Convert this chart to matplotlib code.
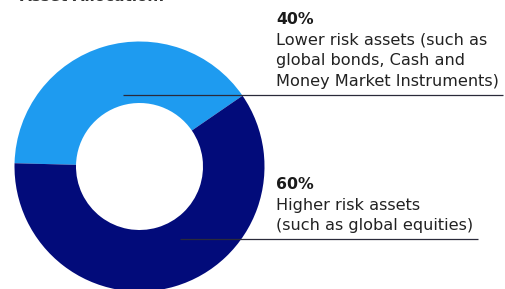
import matplotlib.pyplot as plt

# === Data ===
shares = [40, 60]
pct_labels = ['40%', '60%']
descriptions = [
    ['Lower risk assets (such as', 'global bonds, Cash and', 'Money Market Instruments)'],
    ['Higher risk assets', '(such as global equities)'],
]
colors = ['#1e9bf0', '#020b7a']
title = 'Asset Allocation:'

# === Layout (pixels, origin top-left) ===
W, H = 506, 289
center = (139.5, 166.5)
r_out, r_in = 125, 63.5
text_x = 276.5
header_base = [23.8, 188.8]
line_step = 20.8
leader_y = [95, 238.5]
leader_x0 = [123, 180]
leader_x1 = [503, 478]

fig = plt.figure(figsize=(W / 100, H / 100), dpi=100)
ax = fig.add_axes([0, 0, 1, 1])

ax.pie(shares, colors=colors, startangle=34.5, counterclock=True,
       radius=r_out, center=(center[0], H - center[1]),
       wedgeprops=dict(width=r_out - r_in, linewidth=0))

ax.set_xlim(0, W)
ax.set_ylim(0, H)
ax.set_aspect('equal')
ax.axis('off')

font = ['DejaVu Sans']

for i in range(len(shares)):
    ax.text(text_x, H - header_base[i], pct_labels[i], fontsize=11.3,
            fontweight='bold', family=font, color='#1a1a1a', va='baseline')
    for j, line in enumerate(descriptions[i]):
        ax.text(text_x, H - header_base[i] - line_step * (j + 1), line,
                fontsize=11.6, family=font, color='#222222', va='baseline')
    ax.plot([leader_x0[i], leader_x1[i]], [H - leader_y[i]] * 2,
            color='#2a2a3a', lw=0.9, solid_capstyle='butt')

# title is cut off at the top edge in the original
ax.text(20, H - 1.2, title, fontsize=11, fontweight='bold', family=font,
        color='#333333', va='baseline')

fig.savefig('out.png', dpi=100)
